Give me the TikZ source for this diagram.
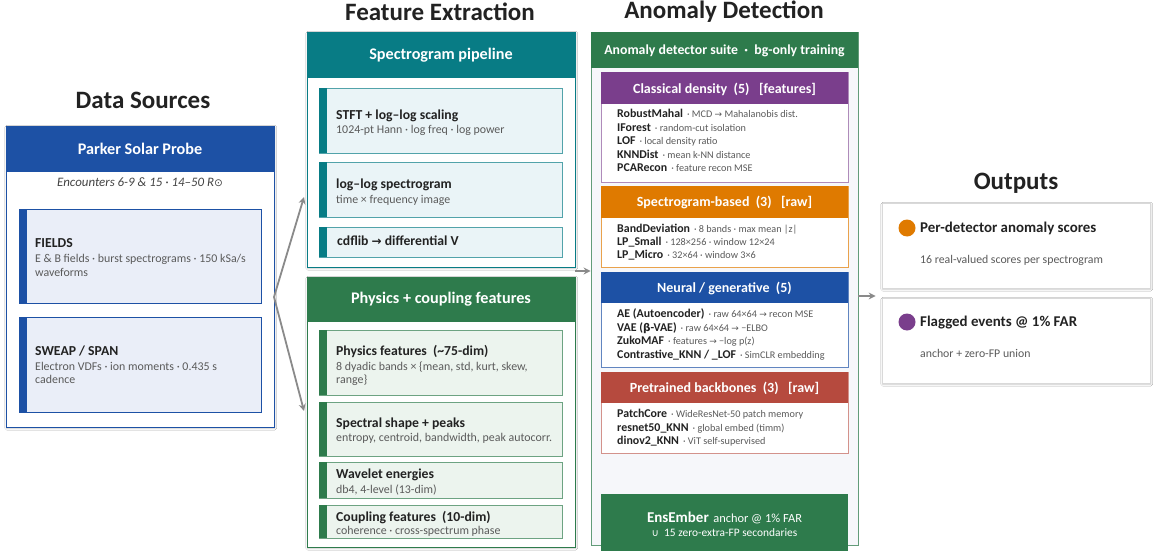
\documentclass[tikz,border=0pt]{standalone}
\usepackage{fontspec}
\setmainfont{Carlito}
\newfontfamily\symf{DejaVu Sans}
\usetikzlibrary{arrows.meta,fit,shadows.blur}
\definecolor{cblue}{HTML}{1D51A5}
\definecolor{cteal}{HTML}{087C85}
\definecolor{cgreen}{HTML}{2E7B4C}
\definecolor{cpurple}{HTML}{7A3E8C}
\definecolor{corange}{HTML}{DF7A00}
\definecolor{cred}{HTML}{B64A3E}
\definecolor{bluefill}{HTML}{EAEEF8}
\definecolor{tealfill}{HTML}{EAF4F7}
\definecolor{greenfill}{HTML}{ECF4EE}
\definecolor{tdark}{HTML}{222222}
\definecolor{tgray}{HTML}{5A5A5A}
\definecolor{arrgray}{HTML}{8A8A8A}
\definecolor{suitefill}{HTML}{F6F7FA}
\newcommand\fs[1]{\fontsize{#1}{#1}\selectfont}
\tikzset{
  coltitle/.style={font=\fs{25}\bfseries, text=tdark, inner sep=0},
  box/.style={inner sep=0, line width=0.9pt},
  hdr/.style={font=\fs{16.2}\bfseries, text=white, inner sep=0},
  subhdr/.style={font=\fs{14}\bfseries, text=white, inner sep=0},
  stitle/.style={font=\fs{13.7}\bfseries, text=tdark, inner sep=0, anchor=base west},
  sdesc/.style={font=\fs{11.9}, text=tgray, inner sep=0, anchor=base west},
  item/.style={font=\fs{11.9}\bfseries, text=tdark, inner sep=0, anchor=base west},
  arr/.style={draw=arrgray, line width=1.8pt, -{Stealth[length=7pt,width=7pt]}},
  sshadow/.style={blur shadow={shadow xshift=0.8pt, shadow yshift=-1.2pt, shadow blur steps=6, shadow opacity=22}},
}
\newcommand\idesc[1]{\hspace{4pt}{\fs{10.2}\mdseries\color{tgray}#1}}
\newcommand\sarrow[1]{{\symf\fs{#1}→}}
\begin{document}
\begin{tikzpicture}[x=1pt,y=-1pt]
\useasboundingbox (0,0) rectangle (1158,551);
\fill[white] (0,0) rectangle (1158,551);

% ---------- titles
\node[coltitle] (t1) at (143,100) {Data Sources};
\node[coltitle] (t2) at (440,12) {Feature Extraction};
\node[coltitle] (t3) at (724,12) {Anomaly Detection};
\node[coltitle] (t4) at (1016,183) {Outputs};

% ---------- Data sources
\node[box, fit={(6,126) (274,427)}, draw=cblue, fill=white, sshadow] (ds) {};
\fill[cblue] (6,126) rectangle (274,172);
\node[hdr] (dsh) at (140,149) {Parker Solar Probe};
\node[inner sep=0, font=\fs{12.9}\itshape, text=tdark!85] (enc) at (140,182) {Encounters 6-9 \& 15 · 14–50 R{\upshape\symf\fs{10.5}⊙}};

\node[box, fit={(19,209) (261,303)}, draw=cblue, fill=bluefill] (fields) {};
\fill[cblue] (fields.north west) rectangle ([xshift=8pt]fields.south west);
\node[stitle] (fieldsT) at (35,247.5) {FIELDS};
\node[sdesc] (fieldsD) at (35,262) {E \& B fields · burst spectrograms · 150 kSa/s};
\node[sdesc] (fieldsD2) at (35,276) {waveforms};

\node[box, fit={(19,317) (261,412)}, draw=cblue, fill=bluefill] (sweap) {};
\fill[cblue] (sweap.north west) rectangle ([xshift=8pt]sweap.south west);
\node[stitle] (sweapT) at (35,355) {SWEAP / SPAN};
\node[sdesc] (sweapD) at (35,370) {Electron VDFs · ion moments · 0.435 s};
\node[sdesc] (sweapD2) at (35,383.5) {cadence};

% ---------- Spectrogram pipeline
\node[box, fit={(307,32) (575,267)}, draw=cteal, fill=white, sshadow] (spec) {};
\fill[cteal] (307,32) rectangle (575,78);
\node[hdr] (spech) at (441,55) {Spectrogram pipeline};

\node[box, fit={(319,88) (562,153)}, draw=cteal!70, fill=tealfill] (stft) {};
\fill[cteal] (stft.north west) rectangle ([xshift=8pt]stft.south west);
\node[stitle] (stftT) at (336,119) {STFT + log–log scaling};
\node[sdesc] (stftD) at (336,133) {1024-pt Hann · log freq · log power};

\node[box, fit={(319,162) (562,217)}, draw=cteal!70, fill=tealfill] (llspec) {};
\fill[cteal] (llspec.north west) rectangle ([xshift=8pt]llspec.south west);
\node[stitle] (llT) at (336,188) {log–log spectrogram};
\node[sdesc] (llD) at (336,203) {time × frequency image};

\node[box, fit={(319,227) (562,257)}, draw=cteal!70, fill=tealfill] (cdf) {};
\fill[cteal] (cdf.north west) rectangle ([xshift=8pt]cdf.south west);
\node[stitle] (cdfT) at (337,245) {cdflib \sarrow{12} differential V};

% ---------- Physics + coupling
\node[box, fit={(307,277) (575,547)}, draw=cgreen, fill=white, sshadow] (phys) {};
\fill[cgreen] (307,277) rectangle (575,322);
\node[hdr] (physh) at (441,299.5) {Physics + coupling features};

\node[box, fit={(319,330) (562,395)}, draw=cgreen!70, fill=greenfill] (pf) {};
\fill[cgreen] (pf.north west) rectangle ([xshift=8pt]pf.south west);
\node[stitle] (pfT) at (336,355) {Physics features\ \ (\textasciitilde 75-dim)};
\node[sdesc] (pfD) at (336,370) {8 dyadic bands × \{mean, std, kurt, skew,};
\node[sdesc] (pfD2) at (336,383.5) {range\}};

\node[box, fit={(319,402) (562,456)}, draw=cgreen!70, fill=greenfill] (ss) {};
\fill[cgreen] (ss.north west) rectangle ([xshift=8pt]ss.south west);
\node[stitle] (ssT) at (336,427) {Spectral shape + peaks};
\node[sdesc] (ssD) at (336,441) {entropy, centroid, bandwidth, peak autocorr.};

\node[box, fit={(319,462) (562,498)}, draw=cgreen!70, fill=greenfill] (wv) {};
\fill[cgreen] (wv.north west) rectangle ([xshift=8pt]wv.south west);
\node[stitle] (wvT) at (336,478) {Wavelet energies};
\node[sdesc] (wvD) at (336,493) {db4, 4-level (13-dim)};

\node[box, fit={(319,505) (562,538)}, draw=cgreen!70, fill=greenfill] (cp) {};
\fill[cgreen] (cp.north west) rectangle ([xshift=8pt]cp.south west);
\node[stitle] (cpT) at (336,521) {Coupling features\ \ (10-dim)};
\node[sdesc] (cpD) at (336,534) {coherence · cross-spectrum phase};

% ---------- Anomaly detection
\node[box, fit={(591,32) (858,545)}, draw=cgreen!75, fill=suitefill] (suite) {};
\fill[cgreen] (591,32) rectangle (858,68);
\node[inner sep=0, font=\fs{13.8}\bfseries, text=white] (suiteh) at (724.5,50.5) {Anomaly detector suite\ \ ·\ \ bg-only training};

% Classical density
\node[box, fit={(601,72) (848,182)}, draw=cpurple!60, fill=white] (cd) {};
\fill[cpurple] (601,72) rectangle (848,104);
\node[subhdr] (cdh) at (724.5,89) {Classical density\ \ (5)\ \ \ [features]};
\node[item] (cd1) at (617,117.5) {RobustMahal\idesc{· MCD \sarrow{9} Mahalanobis dist.}};
\node[item] (cd2) at (617,131) {IForest\idesc{· random-cut isolation}};
\node[item] (cd3) at (617,144.5) {LOF\idesc{· local density ratio}};
\node[item] (cd4) at (617,158.5) {KNNDist\idesc{· mean k-NN distance}};
\node[item] (cd5) at (617,171.5) {PCARecon\idesc{· feature recon MSE}};

% Spectrogram-based
\node[box, fit={(601,186) (848,267)}, draw=corange!70, fill=white] (sb) {};
\fill[corange] (601,186) rectangle (848,218);
\node[subhdr] (sbh) at (724.5,202.5) {Spectrogram-based\ \ (3)\ \ \ [raw]};
\node[item] (sb1) at (617,232) {BandDeviation\idesc{· 8 bands · max mean |z|}};
\node[item] (sb2) at (617,245.5) {LP\_Small\idesc{· 128×256 · window 12×24}};
\node[item] (sb3) at (617,258.5) {LP\_Micro\idesc{· 32×64 · window 3×6}};

% Neural / generative
\node[box, fit={(601,272) (848,367)}, draw=cblue!70, fill=white] (ng) {};
\fill[cblue] (601,272) rectangle (848,303);
\node[subhdr] (ngh) at (724.5,288) {Neural / generative\ \ (5)};
\node[item] (ng1) at (617,317.5) {AE (Autoencoder)\idesc{· raw 64×64 \sarrow{9} recon MSE}};
\node[item] (ng2) at (617,331) {VAE ({\symf\fs{10.5}\bfseries β}-VAE)\idesc{· raw 64×64 \sarrow{9} −ELBO}};
\node[item] (ng3) at (617,344.5) {ZukoMAF\idesc{· features \sarrow{9} −log p(z)}};
\node[item] (ng4) at (617,358.5) {Contrastive\_KNN / \_LOF\idesc{· SimCLR embedding}};

% Pretrained backbones
\node[box, fit={(601,372) (848,453)}, draw=cred!60, fill=white] (pb) {};
\fill[cred] (601,372) rectangle (848,403);
\node[subhdr] (pbh) at (724.5,388) {Pretrained backbones\ \ (3)\ \ \ [raw]};
\node[item] (pb1) at (617,417.5) {PatchCore\idesc{· WideResNet-50 patch memory}};
\node[item] (pb2) at (617,431) {resnet50\_KNN\idesc{· global embed (timm)}};
\node[item] (pb3) at (617,444.5) {dinov2\_KNN\idesc{· ViT self-supervised}};

% EnsEmber
\node[inner sep=0, fit={(601,494) (848,551)}, fill=cgreen] (ens) {};
\node[inner sep=0, text=white, anchor=base] (ensT) at (724.5,522.5) {{\fs{15}\bfseries EnsEmber}\ \ {\fs{12.4}anchor @ 1\% FAR}};
\node[inner sep=0, text=white, anchor=base, font=\fs{11.4}] (ensD) at (724.5,536) {{\symf\fs{10}∪}\ \ 15 zero-extra-FP secondaries};

% ---------- Outputs
\node[box, fit={(882,203) (1150,288)}, draw=black!15, line width=0.7pt, fill=white, sshadow] (o1) {};
\node[circle, fill=corange, minimum size=17pt, inner sep=0] (o1dot) at (907,228) {};
\node[inner sep=0, anchor=base west, font=\fs{14.9}\bfseries, text=tdark] (o1T) at (920,232) {Per-detector anomaly scores};
\node[inner sep=0, anchor=base west, font=\fs{11.8}, text=tgray] (o1D) at (920,263) {16 real-valued scores per spectrogram};

\node[box, fit={(882,298) (1150,383)}, draw=black!15, line width=0.7pt, fill=white, sshadow] (o2) {};
\node[circle, fill=cpurple, minimum size=17pt, inner sep=0] (o2dot) at (907,322) {};
\node[inner sep=0, anchor=base west, font=\fs{14.9}\bfseries, text=tdark] (o2T) at (920,326) {Flagged events @ 1\% FAR};
\node[inner sep=0, anchor=base west, font=\fs{11.8}, text=tgray] (o2D) at (920,357) {anchor + zero-FP union};

% ---------- connectors
\coordinate (dsout) at (274,297);
\coordinate (feA) at (304,197);
\coordinate (feB) at (304,411);
\draw[arr] (dsout) -- (feA);
\draw[arr] (dsout) -- (feB);
\draw[arr] (spec.south east |- 0,271) -- (suite.west |- 0,271);
\draw[arr] (suite.east |- 0,296) -- ([xshift=-6pt]o1.west |- 0,296);
\end{tikzpicture}
\end{document}
